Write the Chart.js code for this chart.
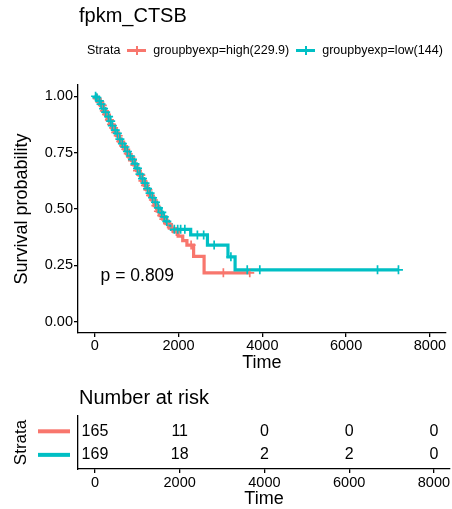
<!DOCTYPE html>
<html>
<head>
<meta charset="utf-8">
<script src="https://cdn.jsdelivr.net/npm/chart.js@4.4.1/dist/chart.umd.min.js"></script>
<style>
    body { margin: 0; background: #fff; font-family: "Liberation Sans", Arial, Helvetica, sans-serif; }
    #wrap { position: relative; width: 452px; height: 509px; overflow: hidden; }
    canvas { position: absolute; left: 0; }
    #titulo { position: absolute; left: 79px; top: 3px; font-size: 20px; line-height: 24px; color: #000; }
    #leyenda { position: absolute; left: 87px; top: 42px; font-size: 12.5px; line-height: 16px; display: flex; align-items: center; color: #000; white-space: nowrap; }
    .clave { display: inline-block; position: relative; width: 19px; height: 3px; margin: 0 7px 0 7px; }
    .clave::after { content: ""; position: absolute; left: 8.5px; top: -3px; width: 2px; height: 9px; background: inherit; }
    #riesgoTitulo { position: absolute; left: 79px; top: 385px; font-size: 20px; line-height: 24px; color: #000; }
</style>
</head>
<body>
<div id="wrap">
    <canvas id="grafico" width="452" height="375" style="top:0"></canvas>
    <canvas id="riesgo" width="452" height="136" style="top:375px"></canvas>
    <div id="titulo">fpkm_CTSB</div>
    <div id="leyenda"></div>
    <div id="riesgoTitulo">Number at risk</div>
</div>
<script>
const estratos = ["groupbyexp=high(229.9)", "groupbyexp=low(144)"];
const colores = ["#F8766D", "#00BFC4"];

// Curva grupo alto: tiempo del evento y supervivencia despues del evento
const altoTiempos = [0, 40, 90, 140, 200, 250, 300, 360, 410, 470, 520, 580, 640, 700, 760, 820, 880, 940, 1000, 1060, 1120, 1180, 1240, 1300, 1360, 1420, 1490, 1560, 1630, 1700, 1780, 1880, 1990, 2100, 2200, 2360, 2610];
const altoSuperv = [1, 0.99, 0.975, 0.96, 0.935, 0.92, 0.895, 0.875, 0.86, 0.84, 0.825, 0.80, 0.78, 0.765, 0.745, 0.73, 0.715, 0.695, 0.67, 0.65, 0.625, 0.605, 0.585, 0.56, 0.54, 0.515, 0.49, 0.47, 0.455, 0.435, 0.415, 0.40, 0.38, 0.36, 0.34, 0.29, 0.217];
const altoCensura = [60, 120, 180, 230, 280, 350, 400, 450, 500, 560, 620, 690, 740, 800, 860, 900, 960, 1020, 1100, 1150, 1210, 1270, 1330, 1400, 1460, 1520, 1600, 1650, 1740, 1850, 1950, 2300, 3070, 3700];

// Curva grupo bajo
const bajoTiempos = [0, 30, 80, 130, 190, 240, 290, 350, 400, 460, 510, 570, 630, 690, 750, 810, 870, 930, 990, 1050, 1110, 1170, 1230, 1290, 1350, 1410, 1480, 1550, 1620, 1700, 1760, 1830, 2290, 2690, 3180, 3350];
const bajoSuperv = [1, 0.994, 0.98, 0.965, 0.945, 0.93, 0.91, 0.89, 0.87, 0.85, 0.835, 0.81, 0.79, 0.775, 0.755, 0.735, 0.72, 0.70, 0.68, 0.655, 0.635, 0.615, 0.59, 0.57, 0.55, 0.53, 0.505, 0.485, 0.465, 0.445, 0.43, 0.41, 0.385, 0.34, 0.288, 0.23];
const bajoCensura = [20, 50, 110, 150, 210, 260, 330, 380, 420, 490, 540, 600, 660, 720, 780, 850, 900, 960, 1020, 1080, 1140, 1200, 1260, 1320, 1380, 1450, 1520, 1600, 1660, 1720, 1900, 1980, 2050, 2150, 2450, 2600, 2850, 3250, 3640, 3940, 6750, 7250];

const ticksX = [0, 2000, 4000, 6000, 8000];
const ticksY = [0, 0.25, 0.5, 0.75, 1];

const riesgoTiempos = [0, 2000, 4000, 6000, 8000];
const riesgoAlto = [165, 11, 0, 0, 0];
const riesgoBajo = [169, 18, 2, 2, 0];

const valorP = "p = 0.809";

const fuente = '"Liberation Sans", Arial, Helvetica, sans-serif';
Chart.defaults.font.family = fuente;
Chart.defaults.color = "#000";

// Leyenda en HTML
const leyenda = document.getElementById("leyenda");
leyenda.innerHTML = "<span>Strata</span>" + estratos.map((e, i) =>
    `<span class="clave" style="background:${colores[i]}"></span><span>${e}</span>`).join("");

const survEn = (tiempos, superv, t) => {
    let s = 1;
    tiempos.forEach((ti, i) => { if (ti <= t) s = superv[i]; });
    return s;
};

const curva = (tiempos, superv, censura) => {
    const puntos = tiempos.map((t, i) => ({ x: t, y: superv[i] }));
    const fin = Math.max(...censura);
    puntos.push({ x: fin, y: superv[superv.length - 1] });
    return puntos;
};

const marcas = (tiempos, superv, censura) =>
    censura.map(t => ({ x: t, y: survEn(tiempos, superv, t) }));

const ejeNegro = {
    drawOnChartArea: false,
    drawTicks: true,
    tickLength: 4,
    color: "#000",
    tickColor: "#000",
    lineWidth: 1.3
};

const textoP = {
    id: "textoP",
    afterDatasetsDraw(chart) {
        const { ctx, scales } = chart;
        ctx.save();
        ctx.font = `17.5px ${fuente}`;
        ctx.fillStyle = "#000";
        ctx.textAlign = "left";
        ctx.textBaseline = "middle";
        ctx.fillText(valorP, scales.x.getPixelForValue(140), scales.y.getPixelForValue(0.2));
        ctx.restore();
    }
};

const ejeTiempo = (alto, relleno) => ({
    type: "linear",
    min: -400,
    max: 8380,
    afterBuildTicks: escala => { escala.ticks = ticksX.map(v => ({ value: v })); },
    afterFit: escala => { escala.height = alto; },
    grid: ejeNegro,
    border: { display: true, color: "#000", width: 1.3 },
    ticks: { font: { size: 14.5 }, color: "#000", padding: relleno, maxRotation: 0, callback: v => String(v) },
    title: { display: true, text: "Time", font: { size: 18 }, color: "#000", padding: { top: 0, bottom: 1 } }
});

new Chart(document.getElementById("grafico"), {
    type: "scatter",
    data: {
        datasets: [
            {
                data: marcas(bajoTiempos, bajoSuperv, bajoCensura),
                order: 0,
                pointStyle: "cross",
                pointRadius: 4.5,
                pointBorderWidth: 1.7,
                borderColor: colores[1],
                backgroundColor: colores[1],
                showLine: false
            },
            {
                data: marcas(altoTiempos, altoSuperv, altoCensura),
                order: 1,
                pointStyle: "cross",
                pointRadius: 4.5,
                pointBorderWidth: 1.7,
                borderColor: colores[0],
                backgroundColor: colores[0],
                showLine: false
            },
            {
                data: curva(bajoTiempos, bajoSuperv, bajoCensura),
                order: 2,
                showLine: true,
                stepped: "before",
                borderColor: colores[1],
                borderWidth: 3.2,
                pointRadius: 0
            },
            {
                data: curva(altoTiempos, altoSuperv, altoCensura),
                order: 3,
                showLine: true,
                stepped: "before",
                borderColor: colores[0],
                borderWidth: 3.2,
                pointRadius: 0
            }
        ]
    },
    options: {
        responsive: false,
        animation: false,
        devicePixelRatio: 1,
        layout: { padding: { top: 85, right: 2, left: 0, bottom: 0 } },
        plugins: { legend: { display: false }, tooltip: { enabled: false } },
        scales: {
            x: ejeTiempo(42, 0),
            y: {
                type: "linear",
                min: -0.05,
                max: 1.05,
                afterBuildTicks: escala => { escala.ticks = ticksY.map(v => ({ value: v })); },
                afterFit: escala => { escala.width = 78; },
                grid: ejeNegro,
                border: { display: true, color: "#000", width: 1.3 },
                ticks: { font: { size: 14.5 }, color: "#000", padding: 1, callback: v => Number(v).toFixed(2) },
                title: { display: true, text: "Survival probability", font: { size: 18 }, color: "#000", padding: { top: 11, bottom: 0 } }
            }
        }
    },
    plugins: [textoP]
});

// Tabla de numero en riesgo
const tablaRiesgo = {
    id: "tablaRiesgo",
    afterDraw(chart) {
        const { ctx, scales } = chart;
        const filas = [riesgoAlto, riesgoBajo];
        ctx.save();
        ctx.font = `16px ${fuente}`;
        ctx.textAlign = "center";
        ctx.textBaseline = "middle";
        filas.forEach((fila, f) => {
            const y = scales.y.getPixelForValue(f);
            ctx.fillStyle = "#000";
            fila.forEach((n, i) => {
                ctx.fillText(String(n), scales.x.getPixelForValue(riesgoTiempos[i]), y);
            });
            ctx.fillStyle = colores[f];
            ctx.fillRect(38, y - 2, 32, 4);
        });
        ctx.restore();
    }
};

new Chart(document.getElementById("riesgo"), {
    type: "scatter",
    data: { datasets: [{ data: [] }] },
    options: {
        responsive: false,
        animation: false,
        devicePixelRatio: 1,
        layout: { padding: { top: 41, right: 2, left: 0, bottom: 0 } },
        plugins: { legend: { display: false }, tooltip: { enabled: false } },
        scales: {
            x: ejeTiempo(42, 1.5),
            y: {
                type: "linear",
                min: -0.65,
                max: 1.6,
                reverse: true,
                afterFit: escala => { escala.width = 78; },
                grid: { display: false },
                border: { display: true, color: "#000", width: 1.3 },
                ticks: { display: false },
                title: { display: true, text: "Strata", font: { size: 17 }, color: "#000", padding: { top: 11.5, bottom: 0 } }
            }
        }
    },
    plugins: [tablaRiesgo]
});
</script>
</body>
</html>
